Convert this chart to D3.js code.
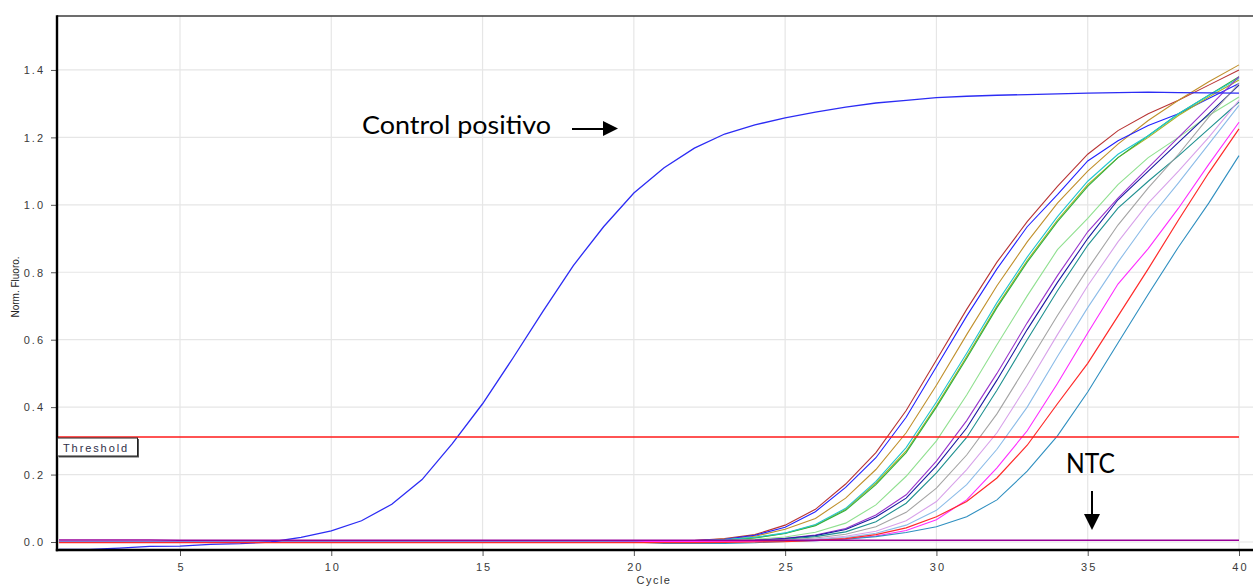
<!DOCTYPE html>
<html><head><meta charset="utf-8">
<script src="https://cdn.jsdelivr.net/npm/d3@7"></script>
<style>
html,body{margin:0;padding:0;background:#fff;}
svg{display:block;}
.tick-lbl{font-family:"Liberation Sans",Arial,sans-serif;font-size:11px;fill:#3a3a3a;letter-spacing:2px;}
</style></head>
<body>
<svg id="c" width="1253" height="587"></svg>
<script>
// ---------------- DATA ----------------
const cycles = [1,2,3,4,5,6,7,8,9,10,11,12,13,14,15,16,17,18,19,20,21,22,23,24,25,26,27,28,29,30,31,32,33,34,35,36,37,38,39,40];
const xTicks = [5,10,15,20,25,30,35,40];
const yTicks = [0.0,0.2,0.4,0.6,0.8,1.0,1.2,1.4];
const thresholdValue = 0.31;

const controlPositivo = [-0.022,-0.022,-0.018,-0.013,-0.012,-0.007,-0.005,0.0,0.014,0.033,0.063,0.112,0.185,0.292,0.41,0.545,0.685,0.82,0.935,1.035,1.11,1.168,1.21,1.237,1.258,1.275,1.29,1.302,1.31,1.318,1.322,1.325,1.327,1.329,1.331,1.333,1.334,1.333,1.332,1.331];

const ntc = [0.006,0.006,0.006,0.006,0.005,0.005,0.005,0.005,0.005,0.005,0.005,0.005,0.005,0.005,0.005,0.005,0.005,0.005,0.005,0.005,0.005,0.005,0.005,0.005,0.005,0.005,0.005,0.005,0.005,0.005,0.005,0.005,0.005,0.005,0.005,0.005,0.005,0.005,0.005,0.005];

const sBrown =     [0,0,0,0,0,0,0,0,0,0,0,0,0,0,0,0,0,0,0.001,0.001,0.002,0.004,0.01,0.022,0.05,0.097,0.172,0.265,0.39,0.54,0.69,0.83,0.95,1.055,1.15,1.22,1.27,1.31,1.355,1.40];
const sBlue =      [0,0,0,0,0,0,0,0,0,0,0,0,0,0,0,0,0,0,0.001,0.001,0.002,0.004,0.008,0.02,0.044,0.09,0.162,0.25,0.37,0.52,0.67,0.81,0.935,1.03,1.13,1.19,1.235,1.27,1.315,1.36];
const sGold =      [0,0,0,0,0,0,0,0,0,0,0,0,0,0,0,0,0,0,0,0.001,0.002,0.004,0.009,0.017,0.038,0.07,0.13,0.215,0.324,0.465,0.615,0.76,0.89,1.005,1.10,1.18,1.25,1.31,1.365,1.415];
const sCyan =      [0,0,0,0,0,0,0,0,0,0,0,0,0,0,0,0,0,0,0,0,0.001,0.003,0.007,0.014,0.027,0.052,0.10,0.18,0.28,0.415,0.56,0.71,0.845,0.965,1.07,1.15,1.205,1.27,1.325,1.375];
const sOlive =     [0,0,0,0,0,0,0,0,0,0,0,0,0,0,0,0,0,0,0,0,0.001,0.003,0.006,0.013,0.026,0.05,0.097,0.175,0.27,0.405,0.55,0.70,0.835,0.955,1.06,1.14,1.20,1.265,1.32,1.37];
const sGreen =     [0,0,0,0,0,0,0,0,0,0,0,0,0,0,0,0,0,0,0,0,0.001,0.003,0.006,0.012,0.025,0.048,0.094,0.17,0.265,0.40,0.545,0.695,0.83,0.95,1.055,1.14,1.205,1.27,1.325,1.38];
const sLightGreen =[0,0,0,0,0,0,0,0,0,0,0,0.001,0.001,0.001,0.002,0.002,0.002,0.002,0.002,0.002,0.002,0.003,0.004,0.008,0.015,0.029,0.056,0.11,0.195,0.30,0.436,0.585,0.73,0.867,0.96,1.06,1.14,1.20,1.265,1.32];
const sPurple =    [0,0,0,0,0,0,0,0,0,0,0,0,0,0,0,0,0,0,0,0,0.001,0.002,0.003,0.005,0.011,0.021,0.04,0.08,0.14,0.24,0.36,0.50,0.65,0.79,0.92,1.02,1.11,1.20,1.29,1.38];
const sNavy =      [0,0,0,0,0,0,0,0,0,0,0,0,0,0,0,0,0,0,0,0,0.001,0.002,0.003,0.005,0.01,0.019,0.037,0.074,0.13,0.226,0.338,0.48,0.63,0.77,0.90,1.015,1.10,1.185,1.27,1.355];
const sTeal =      [0,0,0,0,0,0,0,0,0,0,0,0,0,0,0,0,0,0,0,0,0,0.001,0.002,0.004,0.008,0.016,0.03,0.06,0.115,0.205,0.31,0.45,0.60,0.745,0.88,0.99,1.07,1.145,1.225,1.305];
const sGray =      [0,0,0,0,0,0,0,0,0,0,0,0,0,0,0,0,0,0,0,0,0,0.001,0.002,0.003,0.006,0.012,0.023,0.045,0.088,0.16,0.258,0.38,0.525,0.672,0.81,0.94,1.05,1.15,1.26,1.36];
const sPlum =      [0,0,0,0,0,0,0,0,0,0,0,0,0,0,0,0,0,0,0,0,0,0.001,0.001,0.002,0.005,0.009,0.017,0.032,0.063,0.12,0.215,0.324,0.465,0.615,0.76,0.89,1.005,1.10,1.20,1.31];
const sLightBlue = [0,0,0,0,0,0,0,0,0,0,0,0,0,0,0,0,0,0,0,0,0,0,0.001,0.002,0.004,0.007,0.013,0.026,0.05,0.094,0.17,0.275,0.40,0.55,0.695,0.83,0.955,1.065,1.18,1.295];
const sMagenta =   [0,0,0,0,0,0,0,0,0,0,0,0,0,0,0,0,0,0,0,0.002,0.002,0.001,0.001,0.002,0.003,0.004,0.009,0.018,0.034,0.066,0.125,0.22,0.33,0.47,0.62,0.765,0.87,0.99,1.12,1.245];
const sRed =       [-0.002,-0.002,-0.002,-0.002,-0.002,-0.002,-0.002,-0.002,-0.002,-0.002,-0.002,-0.002,-0.002,-0.002,-0.002,-0.002,-0.002,-0.002,-0.002,-0.002,-0.002,-0.002,-0.001,0.0,0.001,0.005,0.01,0.022,0.042,0.075,0.12,0.19,0.287,0.41,0.53,0.67,0.81,0.955,1.095,1.225];
const sSteel =     [0,0,0,0,0,0,0,0,0,0,0,0,0,0,0,0,0,0,0,0,-0.004,-0.004,-0.004,-0.002,0.002,0.004,0.008,0.016,0.028,0.045,0.075,0.125,0.21,0.315,0.445,0.59,0.735,0.875,1.005,1.146];

const sampleSeries = [
  {name:"brown", values:sBrown, color:"#b83434"},
  {name:"gold", values:sGold, color:"#c0902c"},
  {name:"blue", values:sBlue, color:"#2222ff"},
  {name:"olive", values:sOlive, color:"#a8b422"},
  {name:"green", values:sGreen, color:"#2eb040"},
  {name:"cyan", values:sCyan, color:"#22c6d0"},
  {name:"lightgreen", values:sLightGreen, color:"#90e090"},
  {name:"purple", values:sPurple, color:"#9933cc"},
  {name:"navy", values:sNavy, color:"#1a1aa0"},
  {name:"teal", values:sTeal, color:"#1f9090"},
  {name:"gray", values:sGray, color:"#a4a4a4"},
  {name:"plum", values:sPlum, color:"#d8a2ea"},
  {name:"lightblue", values:sLightBlue, color:"#8cbce8"},
  {name:"magenta", values:sMagenta, color:"#ff2cff"},
  {name:"steel", values:sSteel, color:"#2f8fc0"}
];

// ---------------- CHART ----------------
const svg = d3.select("#c");
const pL = 57, pT = 16, pR = 1253, pB = 550;

const x = d3.scaleLinear().domain([0.935, 40.463]).range([pL, pR]);
const y = d3.scaleLinear().domain([-0.0237, 1.56]).range([pB, pT]);

svg.append("defs").append("clipPath").attr("id","plotclip")
  .append("rect").attr("x",pL).attr("y",pT).attr("width",pR-pL).attr("height",pB-pT);

// grid
const grid = svg.append("g");
grid.selectAll(".vg").data(xTicks).enter().append("line")
  .attr("x1",d=>x(d)).attr("x2",d=>x(d)).attr("y1",pT).attr("y2",pB)
  .attr("stroke","#e6e6e6").attr("stroke-width",1.2);
grid.selectAll(".hg").data(yTicks).enter().append("line")
  .attr("x1",pL).attr("x2",pR).attr("y1",d=>y(d)).attr("y2",d=>y(d))
  .attr("stroke","#e6e6e6").attr("stroke-width",1.2);

// axes
const xAxis = d3.axisBottom(x).tickValues(xTicks).tickSize(6).tickPadding(6).tickFormat(d3.format("d"));
const gx = svg.append("g").attr("transform",`translate(0,${pB})`).call(xAxis);
gx.select(".domain").remove();
gx.selectAll(".tick line").attr("stroke","#555");
gx.selectAll(".tick text").attr("class","tick-lbl").attr("dx","1px").attr("dy","0.85em");

const yAxis = d3.axisLeft(y).tickValues(yTicks).tickSize(6).tickPadding(6).tickFormat(d3.format(".1f"));
const gy = svg.append("g").attr("transform",`translate(${pL},0)`).call(yAxis);
gy.select(".domain").remove();
gy.selectAll(".tick line").attr("stroke","#555");
gy.selectAll(".tick text").attr("class","tick-lbl").attr("dy","0.35em");

// lines
const lineGen = d3.line().x((d,i)=>x(cycles[i])).y(d=>y(d));
const plotG = svg.append("g").attr("clip-path","url(#plotclip)");

plotG.selectAll(".sample").data(sampleSeries).enter().append("path")
  .attr("class","sample")
  .attr("d",d=>lineGen(d.values)).style("fill","none")
  .style("stroke",d=>d.color).style("stroke-width","1.1px");

plotG.append("path").attr("d",lineGen(controlPositivo)).style("fill","none")
  .style("stroke","#2c2cf4").style("stroke-width","1.3px");
plotG.append("path").attr("d",lineGen(sRed)).style("fill","none")
  .style("stroke","#ff2a2a").style("stroke-width","1.2px");
plotG.append("path").attr("d",lineGen(ntc)).style("fill","none")
  .style("stroke","#990099").style("stroke-width","1.4px");

// threshold
const ty = Math.round(y(thresholdValue));
svg.append("path")
  .attr("d",`M${pL},${ty}H${x(40)}`)
  .style("stroke","#ff1a1a").style("stroke-width","1.7px").style("fill","none");

// frame
svg.append("line").attr("x1",pL).attr("x2",pR).attr("y1",pT).attr("y2",pT).attr("stroke","#3c3c3c").attr("stroke-width",1.6);
svg.append("line").attr("x1",pL).attr("x2",pL).attr("y1",pT-0.8).attr("y2",pB+1.3).attr("stroke","#000").attr("stroke-width",2.4);
svg.append("line").attr("x1",pL-1.2).attr("x2",pR).attr("y1",pB).attr("y2",pB).attr("stroke","#000").attr("stroke-width",2.4);

// threshold label box
svg.append("rect").attr("x",pL+2).attr("y",ty+2).attr("width",80).attr("height",18.5)
  .attr("fill","#555");
svg.append("rect").attr("x",pL+0.5).attr("y",ty+1).attr("width",80).attr("height",18)
  .attr("fill","#fff").attr("stroke","#222").attr("stroke-width",1);
svg.append("text").attr("x",pL+6).attr("y",ty+14.5)
  .attr("font-family","Liberation Sans, Arial, sans-serif").attr("font-size",11)
  .attr("letter-spacing","1.9px").attr("fill","#303048").text("Threshold");

// axis titles
svg.append("text").attr("x",654).attr("y",584).attr("text-anchor","middle")
  .attr("font-family","Liberation Sans, Arial, sans-serif").attr("font-size",11)
  .attr("letter-spacing","1.5px").attr("fill","#333").text("Cycle");
svg.append("text").attr("transform","translate(19,287) rotate(-90)").attr("text-anchor","middle")
  .attr("font-family","Liberation Sans, Arial, sans-serif").attr("font-size",10)
  .attr("fill","#222").text("Norm. Fluoro.");

// annotations
svg.append("text").attr("x",362).attr("y",134)
  .attr("font-family","Lato, 'Open Sans', sans-serif").attr("font-size",25)
  .attr("textLength",189).attr("lengthAdjust","spacingAndGlyphs")
  .attr("fill","#000").text("Control positivo");
svg.append("line").attr("x1",572).attr("x2",604).attr("y1",129).attr("y2",129).attr("stroke","#000").attr("stroke-width",2);
svg.append("path").attr("d","M603,121 L618,128.5 L603,136 Z").attr("fill","#000");

svg.append("text").attr("x",1066).attr("y",473)
  .attr("font-family","Lato, 'Open Sans', sans-serif").attr("font-size",26)
  .attr("textLength",49).attr("lengthAdjust","spacingAndGlyphs")
  .attr("fill","#000").text("NTC");
svg.append("line").attr("x1",1092).attr("x2",1092).attr("y1",491).attr("y2",516).attr("stroke","#000").attr("stroke-width",2);
svg.append("path").attr("d","M1084,514 L1092,530 L1100,514 Z").attr("fill","#000");
</script>
</body></html>
